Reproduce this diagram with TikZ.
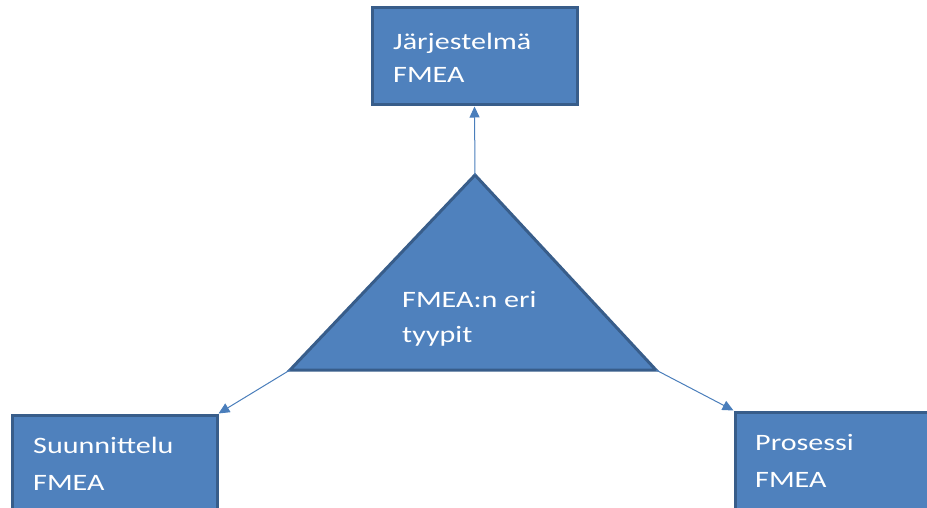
\documentclass[tikz,border=0pt]{standalone}
\usepackage{fontspec}
\setmainfont{Carlito}[FakeStretch=1.28]
\usetikzlibrary{arrows.meta}
\definecolor{boxfill}{HTML}{4F81BD}
\definecolor{boxline}{HTML}{385D8A}
\definecolor{linkline}{HTML}{4A7EBB}
\begin{document}
\begin{tikzpicture}[x=1pt,y=-1pt,
  typebox/.style={draw=boxline,fill=boxfill,line width=3pt,rectangle,inner sep=0pt},
  boxtext/.style={anchor=base west,inner sep=0pt,text=white,font=\fontsize{23.5}{33}\selectfont},
  link/.style={draw=linkline,line width=1pt,-{Triangle[length=11pt,width=10pt]}}]
\useasboundingbox (0,0) rectangle (927,508);
\clip (0,0) rectangle (927,508);
% boxes
\node[typebox,minimum width=205pt,minimum height=97pt] (sys) at (474.5,56.5) {};
\node[typebox,minimum width=205pt,minimum height=120pt] (des) at (114.5,475) {};
\node[typebox,minimum width=205pt,minimum height=120pt] (proc) at (837.5,472) {};
% triangle
\coordinate (apex) at (475,175);
\coordinate (bl) at (290,370);
\coordinate (br) at (656,370);
\draw[draw=boxline,fill=boxfill,line width=3pt,line join=miter] (apex) -- (bl) -- (br) -- cycle;
% texts
\node[boxtext] (t1) at (393,50) {Järjestelmä};
\node[boxtext] (t2) at (393,83) {FMEA};
\node[boxtext] (t3) at (402,307) {FMEA:n eri};
\node[boxtext] (t4) at (402,342) {tyypit};
\node[boxtext] (t5) at (33,453) {Suunnittelu};
\node[boxtext] (t6) at (33,490) {FMEA};
\node[boxtext] (t7) at (755,450) {Prosessi};
\node[boxtext] (t8) at (755,487) {FMEA};
% connectors
\draw[link] (apex) -- (sys.south);
\draw[link] (bl) -- (des.north east);
\draw[link] (br) -- (proc.north west);
\end{tikzpicture}
\end{document}
